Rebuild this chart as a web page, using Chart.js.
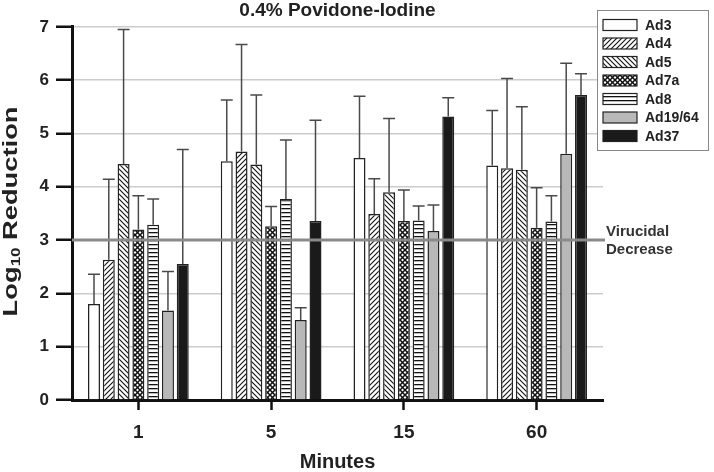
<!DOCTYPE html>
<html>
<head>
<meta charset="utf-8">
<script src="https://cdn.jsdelivr.net/npm/chart.js@4"></script>
<style>
  html, body { margin: 0; padding: 0; background: #fff; }
  #wrap { width: 714px; height: 472px; }
</style>
</head>
<body>
<div id="wrap"><canvas id="povidoneChart"></canvas></div>
<script>
// categories
const minutes = ['1', '5', '15', '60'];
const serotypes = ['Ad3', 'Ad4', 'Ad5', 'Ad7a', 'Ad8', 'Ad19/64', 'Ad37'];

// mean log10 reduction per serotype (one value per time point)
const ad3 = [1.80, 4.48, 4.54, 4.40];
const ad4 = [2.63, 4.66, 3.49, 4.35];
const ad5 = [4.43, 4.42, 3.90, 4.32];
const ad7a = [3.20, 3.26, 3.36, 3.23];
const ad8 = [3.29, 3.77, 3.37, 3.35];
const ad19 = [1.68, 1.50, 3.17, 4.62];
const ad37 = [2.55, 3.36, 5.32, 5.72];

// standard deviations (upper error bars)
const ad3Sd = [0.56, 1.15, 1.16, 1.03];
const ad4Sd = [1.51, 2.01, 0.66, 1.68];
const ad5Sd = [2.52, 1.30, 1.38, 1.18];
const ad7aSd = [0.63, 0.37, 0.58, 0.75];
const ad8Sd = [0.48, 1.11, 0.27, 0.48];
const ad19Sd = [0.73, 0.23, 0.49, 1.70];
const ad37Sd = [2.15, 1.89, 0.35, 0.40];

const yTicks = [0, 1, 2, 3, 4, 5, 6, 7];
const virucidalLevel = 3;

const FONT = "'Liberation Sans', Arial, sans-serif";
Chart.defaults.font.family = FONT;
Chart.defaults.color = '#222';

// hatch patterns
function makePattern(kind) {
    const size = kind === 'horiz' ? 4 : 5;
    const c = document.createElement('canvas');
    c.width = size;
    c.height = size;
    const g = c.getContext('2d');
    g.fillStyle = '#fff';
    g.fillRect(0, 0, size, size);
    g.strokeStyle = '#111';
    if (kind === 'fwd' || kind === 'cross') {
        g.lineWidth = kind === 'cross' ? 1.5 : 1.1;
        g.beginPath();
        g.moveTo(-1, size + 1); g.lineTo(size + 1, -1);
        g.moveTo(-1, 1); g.lineTo(1, -1);
        g.moveTo(size - 1, size + 1); g.lineTo(size + 1, size - 1);
        g.stroke();
    }
    if (kind === 'back' || kind === 'cross') {
        g.lineWidth = kind === 'cross' ? 1.5 : 1.1;
        g.beginPath();
        g.moveTo(-1, -1); g.lineTo(size + 1, size + 1);
        g.moveTo(size - 1, -1); g.lineTo(size + 1, 1);
        g.moveTo(-1, size - 1); g.lineTo(1, size + 1);
        g.stroke();
    }
    if (kind === 'horiz') {
        g.fillStyle = '#111';
        g.fillRect(0, 0, size, 1.3);
    }
    return g.createPattern(c, 'repeat');
}

const fills = [
    '#ffffff',
    makePattern('fwd'),
    makePattern('back'),
    makePattern('cross'),
    makePattern('horiz'),
    '#b8b8b8',
    '#1a1a1a'
];
const means = [ad3, ad4, ad5, ad7a, ad8, ad19, ad37];
const sds = [ad3Sd, ad4Sd, ad5Sd, ad7aSd, ad8Sd, ad19Sd, ad37Sd];

const datasets = serotypes.map((name, i) => ({
    label: name,
    data: means[i],
    sd: sds[i],
    backgroundColor: fills[i],
    borderColor: '#222',
    borderWidth: 1.5
}));

// error bars on top of bars
const errorBars = {
    id: 'errorBars',
    afterDatasetsDraw(chart) {
        const ctx = chart.ctx;
        const y = chart.scales.y;
        ctx.save();
        ctx.strokeStyle = '#4a4a4a';
        ctx.lineWidth = 1.5;
        chart.data.datasets.forEach((ds, i) => {
            const meta = chart.getDatasetMeta(i);
            meta.data.forEach((bar, j) => {
                const top = y.getPixelForValue(ds.data[j] + ds.sd[j]);
                const half = bar.width / 2;
                ctx.beginPath();
                ctx.moveTo(bar.x, bar.y);
                ctx.lineTo(bar.x, top);
                ctx.moveTo(bar.x - half, top);
                ctx.lineTo(bar.x + half, top);
                ctx.stroke();
            });
        });
        ctx.restore();
    }
};

// virucidal threshold line and label
const virucidalLine = {
    id: 'virucidalLine',
    afterDatasetsDraw(chart) {
        const ctx = chart.ctx;
        const area = chart.chartArea;
        const yPix = chart.scales.y.getPixelForValue(virucidalLevel);
        ctx.save();
        ctx.strokeStyle = '#8a8a8a';
        ctx.lineWidth = 3;
        ctx.beginPath();
        ctx.moveTo(area.left, yPix);
        ctx.lineTo(area.right + 2, yPix);
        ctx.stroke();
        ctx.fillStyle = '#333';
        ctx.font = 'bold 15px ' + FONT;
        ctx.textBaseline = 'middle';
        ctx.fillText('Virucidal', area.right + 3, yPix - 8);
        ctx.fillText('Decrease', area.right + 3, yPix + 10);
        ctx.restore();
    }
};

// y axis title with a real subscript
const yTitle = {
    id: 'yTitle',
    afterDraw(chart) {
        const ctx = chart.ctx;
        const area = chart.chartArea;
        const big = 'bold 21px ' + FONT;
        const small = 'bold 13px ' + FONT;
        ctx.save();
        ctx.translate(11, (area.top + area.bottom) / 2 - 2);
        ctx.rotate(-Math.PI / 2);
        ctx.scale(1.3, 1);
        ctx.fillStyle = '#222';
        ctx.textBaseline = 'middle';
        ctx.font = big;
        const w1 = ctx.measureText('Log').width;
        const w3 = ctx.measureText(' Reduction').width;
        ctx.font = small;
        const w2 = ctx.measureText('10').width;
        let x = -(w1 + w2 + w3) / 2;
        ctx.font = big;
        ctx.fillText('Log', x, 0);
        x += w1;
        ctx.font = small;
        ctx.fillText('10', x, 5);
        x += w2;
        ctx.font = big;
        ctx.fillText(' Reduction', x, 0);
        ctx.restore();
    }
};

// boxed legend in the top right corner
const boxLegend = {
    id: 'boxLegend',
    afterDraw(chart) {
        const ctx = chart.ctx;
        const left = 597, top = 10, w = 111, h = 140;
        ctx.save();
        ctx.fillStyle = '#fff';
        ctx.fillRect(left, top, w, h);
        ctx.strokeStyle = '#888';
        ctx.lineWidth = 1;
        ctx.strokeRect(left + 0.5, top + 0.5, w, h);
        ctx.font = 'bold 14px ' + FONT;
        ctx.textBaseline = 'middle';
        chart.data.datasets.forEach((ds, i) => {
            const cy = top + 15 + i * 18.5;
            ctx.fillStyle = ds.backgroundColor;
            ctx.fillRect(left + 6, cy - 5.5, 34, 11);
            ctx.strokeStyle = '#222';
            ctx.lineWidth = 1.2;
            ctx.strokeRect(left + 6, cy - 5.5, 34, 11);
            ctx.fillStyle = '#222';
            ctx.fillText(ds.label, left + 48, cy + 1);
        });
        ctx.restore();
    }
};

const ctx = document.getElementById('povidoneChart').getContext('2d');
const povidoneChart = new Chart(ctx, {
    type: 'bar',
    data: { labels: minutes, datasets: datasets },
    plugins: [errorBars, virucidalLine, yTitle, boxLegend],
    options: {
        responsive: true,
        maintainAspectRatio: false,
        animation: false,
        layout: { padding: { left: 0, right: 111, top: 0, bottom: 0 } },
        datasets: {
            bar: { categoryPercentage: 0.78, barPercentage: 0.81 }
        },
        plugins: {
            legend: { display: false },
            tooltip: { enabled: false },
            title: {
                display: true,
                text: '0.4% Povidone-Iodine',
                fullSize: false,
                color: '#222',
                font: { size: 19, weight: 'bold', lineHeight: 1.1 },
                padding: { top: 0, bottom: 6 }
            }
        },
        scales: {
            x: {
                afterFit: scale => { scale.height = 72; },
                grid: {
                    offset: false,
                    drawOnChartArea: false,
                    tickColor: '#111',
                    tickLength: 10,
                    tickWidth: 2.5
                },
                border: { color: '#111', width: 3 },
                ticks: { padding: 11, color: '#222', font: { size: 19, weight: 'bold' } },
                title: {
                    display: true,
                    text: 'Minutes',
                    color: '#222',
                    font: { size: 20, weight: 'bold', lineHeight: 1.0 },
                    padding: { top: 0, bottom: 0 }
                }
            },
            y: {
                min: 0,
                max: 7,
                afterFit: scale => { scale.width = 72; },
                afterBuildTicks: scale => { scale.ticks = yTicks.map(v => ({ value: v })); },
                grid: {
                    color: '#cccccc',
                    lineWidth: 1.5,
                    tickColor: '#111',
                    tickLength: 16,
                    tickWidth: 2.5
                },
                border: { color: '#111', width: 3 },
                ticks: { padding: 7, color: '#222', font: { size: 17, weight: 'bold' } },
                title: { display: false }
            }
        }
    }
});
</script>
</body>
</html>
